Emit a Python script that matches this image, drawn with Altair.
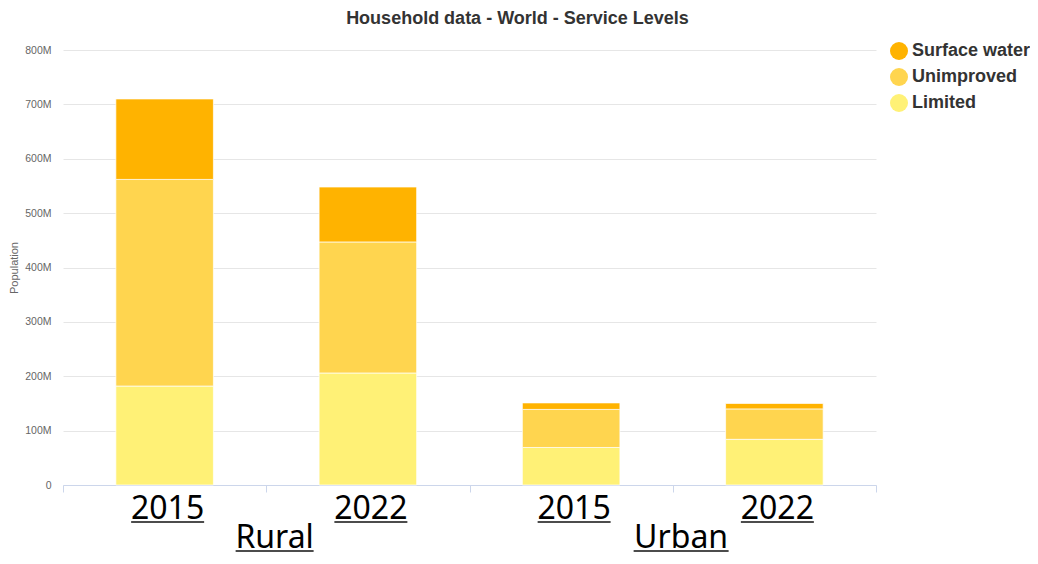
import altair as alt
import pandas as pd

# ---- data (millions of people) ----
areas = ["Rural", "Rural", "Urban", "Urban"]
years = ["2015", "2022", "2015", "2022"]
levels = ["Surface water", "Unimproved", "Limited"]
limited = [182, 206, 69, 84]
unimproved = [380, 241, 70, 56]
surface_water = [148, 101, 12, 10]
y_ticks = [0, 100, 200, 300, 400, 500, 600, 700, 800]
colors = ["#FFB300", "#FFD54F", "#FFF176"]

keys = [f"{a} {y}" for a, y in zip(areas, years)]
rows = []
for i, k in enumerate(keys):
    for lvl, vals, rank in [("Limited", limited, 0), ("Unimproved", unimproved, 1), ("Surface water", surface_water, 2)]:
        rows.append({"key": k, "area": areas[i], "year": years[i], "level": lvl, "value": vals[i], "rank": rank})
df = pd.DataFrame(rows)

lab_df = pd.DataFrame({"key": keys, "year": years})
grp_df = pd.DataFrame({"group": ["Rural", "Urban"], "anchor": ["Rural 2015", "Urban 2015"]})

H = 435
xscale = alt.Scale(domain=keys, paddingInner=0, paddingOuter=0)

bars = alt.Chart(df).mark_bar(width=alt.RelativeBandSize(0.48), stroke="white", strokeWidth=1,
                              strokeOpacity=0.7).encode(
    x=alt.X("key:N", scale=xscale, sort=keys,
            axis=alt.Axis(title=None, labels=False, domainColor="#ccd6eb", tickColor="#ccd6eb",
                          tickBand="extent", tickSize=7, grid=False)),
    y=alt.Y("value:Q", stack="zero",
            scale=alt.Scale(domain=[0, 800], nice=False),
            axis=alt.Axis(title="Population", values=y_ticks, grid=True, gridColor="#e6e6e6",
                          domain=False, ticks=False, labelPadding=12, labelColor="#666666",
                          labelFont="Liberation Sans", labelFontSize=10.5,
                          labelExpr="datum.value == 0 ? '0' : datum.value + 'M'",
                          titleFont="Liberation Sans", titleFontSize=11, titleFontWeight="normal",
                          titleColor="#666666", titleX=-46, titleY=H / 2, titleBaseline="alphabetic",
                          titleAlign="center", titleAngle=270)),
    color=alt.Color("level:N", scale=alt.Scale(domain=levels, range=colors),
                    legend=alt.Legend(title=None, orient="none", legendX=827, legendY=-8,
                                      symbolType="circle", symbolSize=324, symbolStrokeWidth=0,
                                      labelFont="Liberation Sans", labelFontSize=18, labelFontWeight="bold",
                                      labelColor="#333333", labelOffset=4, rowPadding=8)),
    order=alt.Order("rank:Q", sort="ascending"),
)

year_text = alt.Chart(lab_df).mark_text(font="Noto Sans", fontSize=32, color="black",
                                         baseline="alphabetic", align="center", dx=3).encode(
    x=alt.X("key:N", scale=xscale, sort=keys),
    y=alt.value(H + 34),
    text="year:N",
)
year_line = alt.Chart(lab_df).mark_tick(orient="horizontal", color="black", thickness=2, size=73,
                                        xOffset=3).encode(
    x=alt.X("key:N", scale=xscale, sort=keys),
    y=alt.value(H + 37),
)

grp_text = alt.Chart(grp_df).mark_text(font="Noto Sans", fontSize=32, color="black",
                                        baseline="alphabetic", align="center", dx=110).encode(
    x=alt.X("anchor:N", scale=xscale, sort=keys),
    y=alt.value(H + 63),
    text="group:N",
)
grp_line = alt.Chart(grp_df).mark_tick(orient="horizontal", color="black", thickness=2, xOffset=110).encode(
    x=alt.X("anchor:N", scale=xscale, sort=keys),
    y=alt.value(H + 66),
    size=alt.condition("datum.group == 'Rural'", alt.value(78), alt.value(95)),
)

chart = alt.layer(bars, year_text, year_line, grp_text, grp_line).properties(
    width=813, height=H,
    background="white",
    title=alt.TitleParams("Household data - World - Service Levels", font="Liberation Sans",
                          fontSize=18, fontWeight="bold", color="#333333", anchor="middle",
                          frame="group", dx=48, offset=14),
    autosize=alt.AutoSizeParams(type="none"),
    padding={"left": 55, "top": 42, "right": 154, "bottom": 71},
).configure_view(stroke="transparent", strokeWidth=0)

chart.save("out.html", embed_options={"renderer": "svg", "actions": False})
